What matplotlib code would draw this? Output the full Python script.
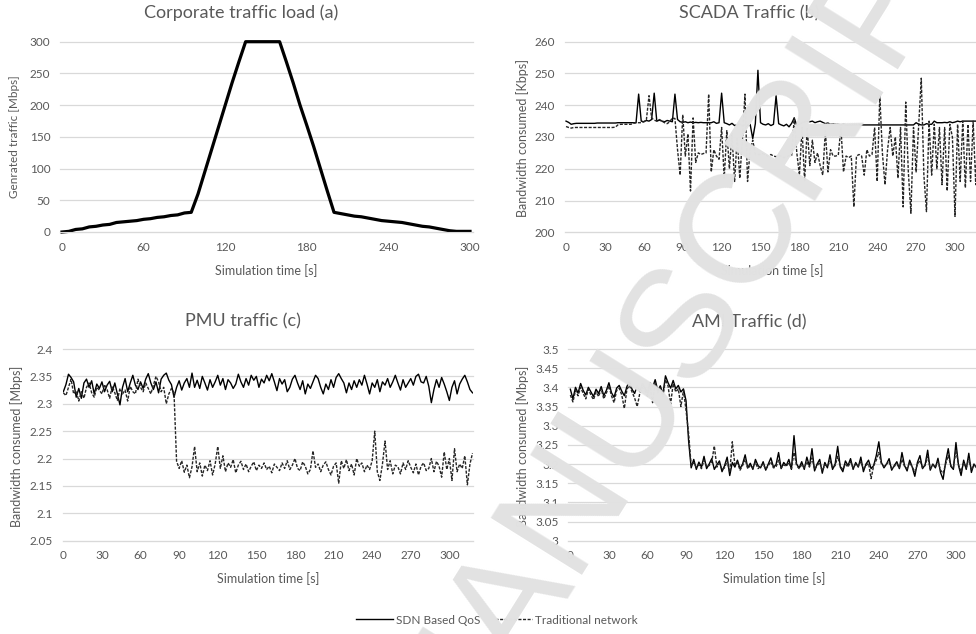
import numpy as np
import matplotlib
matplotlib.use("Agg")
import matplotlib.pyplot as plt
from matplotlib.lines import Line2D
from matplotlib.ticker import FuncFormatter

# ---- data ----
# (a) corporate traffic load, one sample every 5 s
corp_time = np.arange(0, 301, 5)
corp_load = [0, 1, 4, 5, 8, 9, 11, 12, 15, 16, 17, 18, 20, 21, 23, 24, 26, 27, 30, 31,
             60, 95, 130, 165, 200, 235, 268, 300,
             300, 300, 300, 300, 300,
             268, 235, 200, 168, 135, 100, 65, 31,
             29, 27, 25, 24, 22, 20, 18, 17, 16, 15, 13, 11, 9, 8, 6, 4, 2, 1, 1, 1]

# (b)-(d) one sample every 2 s
sim_time = np.arange(0, 320, 2)

scada_sdn = [
    235.0, 234.6, 234.0, 234.2, 234.3, 234.3, 234.3, 234.3, 234.3, 234.3,
    234.3, 234.3, 234.4, 234.4, 234.4, 234.4, 234.4, 234.4, 234.4, 234.4,
    234.5, 234.5, 234.5, 234.5, 234.5, 234.5, 234.5, 234.5, 243.5, 235.0,
    234.8, 235.2, 235.0, 235.5, 243.8, 235.0, 235.3, 235.0, 234.8, 235.2,
    235.0, 234.8, 243.5, 235.5, 234.8, 234.6, 234.8, 234.5, 234.7, 234.5,
    234.6, 234.5, 234.6, 234.5, 234.5, 234.5, 234.5, 234.8, 234.3, 234.5,
    243.8, 234.5, 234.2, 233.8, 234.3, 233.6, 233.8, 234.0, 233.5, 233.8,
    233.7, 234.0, 229.5, 234.2, 251.0, 234.5, 234.0, 233.8, 234.2, 233.6,
    234.0, 243.0, 234.2, 233.8, 233.5, 234.0, 233.2, 234.3, 236.0, 233.6,
    234.0, 234.5, 234.8, 235.0, 234.8, 235.0, 234.5, 234.8, 235.0, 234.6,
    234.2, 234.4, 234.0, 234.2, 234.0, 234.0, 233.8, 234.0, 233.8, 233.8,
    233.7, 233.8, 233.8, 233.8, 233.8, 233.8, 233.8, 233.8, 233.8, 233.8,
    233.8, 233.8, 233.8, 233.8, 233.8, 233.8, 233.8, 233.8, 233.8, 233.8,
    233.8, 233.8, 233.8, 233.8, 233.8, 234.5, 234.0, 233.8, 233.8, 234.2,
    234.0, 234.0, 235.0, 234.5, 234.5, 234.5, 234.6, 234.5, 234.8, 234.5,
    234.7, 235.0, 234.8, 235.0, 235.0, 235.0, 235.0, 235.0, 235.0, 235.0]

scada_trad = [
    233.3, 233.0, 232.8, 233.0, 233.0, 233.0, 233.0, 233.0, 233.0, 233.0,
    233.0, 233.0, 233.0, 233.0, 233.0, 233.0, 233.0, 233.0, 233.0, 233.1,
    233.8, 234.0, 234.0, 234.0, 234.0, 234.0, 234.3, 234.5, 234.5, 234.5,
    234.8, 235.5, 243.0, 236.0, 235.3, 235.0, 235.5, 235.0, 234.5, 234.2,
    234.8, 236.0, 235.8, 226.0, 218.0, 237.0, 224.0, 231.0, 213.0, 236.0,
    222.0, 225.0, 224.5, 224.8, 225.0, 243.5, 219.0, 226.0, 224.0, 223.0,
    233.0, 217.0, 232.0, 220.0, 231.0, 216.0, 230.0, 217.0, 229.0, 243.5,
    216.0, 226.0, 229.0, 224.5, 224.5, 224.5, 224.8, 224.3, 224.0, 224.5,
    224.0, 223.8, 224.0, 224.0, 223.5, 223.8, 224.0, 224.2, 236.0, 225.0,
    218.0, 233.0, 216.0, 233.0, 221.0, 229.0, 222.0, 225.0, 221.0, 218.0,
    232.0, 219.0, 226.0, 224.0, 224.0, 224.3, 233.0, 219.0, 224.0, 223.5,
    224.0, 208.0, 224.0, 224.5, 224.0, 218.0, 226.0, 224.0, 224.5, 233.0,
    216.0, 243.0, 225.0, 215.0, 226.0, 233.0, 224.0, 230.0, 217.0, 233.0,
    208.0, 241.0, 219.0, 206.0, 233.0, 219.0, 234.0, 248.5, 218.0, 206.5,
    235.0, 218.0, 234.0, 220.0, 233.0, 215.0, 233.0, 213.0, 234.0, 230.0,
    205.0, 234.0, 216.0, 235.0, 214.0, 234.0, 216.0, 235.0, 215.0, 237.0]

pmu_sdn = [
    2.322, 2.335, 2.354, 2.348, 2.340, 2.312, 2.328, 2.310, 2.338, 2.345,
    2.330, 2.342, 2.318, 2.336, 2.328, 2.340, 2.322, 2.334, 2.341, 2.322,
    2.338, 2.318, 2.298, 2.330, 2.346, 2.322, 2.338, 2.352, 2.334, 2.326,
    2.340, 2.328, 2.345, 2.355, 2.338, 2.326, 2.340, 2.320, 2.345, 2.352,
    2.356, 2.343, 2.335, 2.312, 2.330, 2.342, 2.325, 2.338, 2.346, 2.330,
    2.356, 2.330, 2.343, 2.328, 2.350, 2.338, 2.325, 2.344, 2.330, 2.340,
    2.352, 2.334, 2.346, 2.326, 2.344, 2.338, 2.328, 2.336, 2.354, 2.340,
    2.330, 2.346, 2.334, 2.352, 2.343, 2.350, 2.330, 2.345, 2.338, 2.352,
    2.342, 2.355, 2.340, 2.324, 2.346, 2.336, 2.344, 2.322, 2.330, 2.345,
    2.352, 2.338, 2.326, 2.342, 2.318, 2.336, 2.328, 2.340, 2.352, 2.346,
    2.330, 2.318, 2.336, 2.326, 2.344, 2.330, 2.348, 2.355, 2.346, 2.338,
    2.320, 2.338, 2.326, 2.342, 2.330, 2.344, 2.334, 2.352, 2.336, 2.318,
    2.338, 2.330, 2.344, 2.322, 2.340, 2.334, 2.346, 2.330, 2.340, 2.352,
    2.338, 2.325, 2.344, 2.330, 2.338, 2.346, 2.334, 2.350, 2.354, 2.340,
    2.338, 2.350, 2.332, 2.302, 2.326, 2.344, 2.330, 2.348, 2.336, 2.322,
    2.306, 2.330, 2.342, 2.318, 2.336, 2.345, 2.352, 2.340, 2.326, 2.320]

pmu_trad = [
    2.320, 2.315, 2.330, 2.345, 2.318, 2.324, 2.305, 2.322, 2.310, 2.330,
    2.338, 2.320, 2.312, 2.330, 2.325, 2.318, 2.335, 2.326, 2.310, 2.332,
    2.320, 2.306, 2.328, 2.318, 2.325, 2.305, 2.332, 2.322, 2.318, 2.345,
    2.330, 2.322, 2.338, 2.328, 2.318, 2.334, 2.350, 2.340, 2.322, 2.330,
    2.300, 2.318, 2.328, 2.320, 2.195, 2.182, 2.196, 2.175, 2.188, 2.165,
    2.185, 2.222, 2.176, 2.192, 2.168, 2.188, 2.178, 2.196, 2.170, 2.190,
    2.222, 2.182, 2.205, 2.176, 2.192, 2.184, 2.198, 2.174, 2.188, 2.195,
    2.180, 2.190, 2.176, 2.186, 2.194, 2.178, 2.188, 2.182, 2.192, 2.180,
    2.186, 2.174, 2.190, 2.184, 2.178, 2.192, 2.182, 2.196, 2.180, 2.188,
    2.200, 2.182, 2.178, 2.194, 2.186, 2.172, 2.180, 2.214, 2.184, 2.190,
    2.176, 2.188, 2.194, 2.180, 2.170, 2.186, 2.192, 2.155, 2.196, 2.182,
    2.198, 2.178, 2.190, 2.170, 2.200, 2.186, 2.192, 2.176, 2.188, 2.180,
    2.196, 2.250, 2.176, 2.160, 2.190, 2.232, 2.180, 2.196, 2.172, 2.188,
    2.185, 2.172, 2.192, 2.180, 2.196, 2.184, 2.174, 2.190, 2.170, 2.186,
    2.192, 2.178, 2.182, 2.200, 2.176, 2.195, 2.186, 2.166, 2.212, 2.180,
    2.200, 2.160, 2.218, 2.176, 2.190, 2.182, 2.205, 2.152, 2.190, 2.210]

ami_sdn = [
    3.395, 3.370, 3.400, 3.385, 3.410, 3.392, 3.380, 3.400, 3.388, 3.376,
    3.395, 3.384, 3.402, 3.378, 3.392, 3.412, 3.386, 3.374, 3.398, 3.405,
    3.390, 3.378, 3.402, 3.416, 3.395, 3.384, 3.404, 3.390, 3.410, 3.398,
    3.386, 3.412, 3.400, 3.420, 3.392, 3.404, 3.382, 3.430, 3.412, 3.398,
    3.418, 3.396, 3.405, 3.388, 3.396, 3.365, 3.260, 3.190, 3.212, 3.186,
    3.205, 3.192, 3.220, 3.188, 3.200, 3.214, 3.186, 3.198, 3.208, 3.180,
    3.196, 3.218, 3.170, 3.204, 3.192, 3.210, 3.188, 3.200, 3.224, 3.190,
    3.202, 3.186, 3.212, 3.196, 3.190, 3.206, 3.184, 3.200, 3.216, 3.192,
    3.198, 3.230, 3.188, 3.204, 3.196, 3.212, 3.186, 3.274, 3.200, 3.190,
    3.206, 3.186, 3.218, 3.194, 3.240, 3.182, 3.200, 3.212, 3.176, 3.204,
    3.190, 3.224, 3.186, 3.200, 3.246, 3.192, 3.180, 3.208, 3.196, 3.214,
    3.186, 3.204, 3.192, 3.218, 3.180, 3.200, 3.210, 3.188, 3.196, 3.222,
    3.258, 3.204, 3.190, 3.200, 3.214, 3.184, 3.196, 3.206, 3.188, 3.230,
    3.196, 3.182, 3.210, 3.192, 3.168, 3.204, 3.222, 3.188, 3.198, 3.236,
    3.184, 3.200, 3.190, 3.215, 3.178, 3.160, 3.206, 3.240, 3.194, 3.186,
    3.256, 3.196, 3.170, 3.210, 3.186, 3.228, 3.178, 3.200, 3.190, 3.205]

ami_trad = [
    3.380, 3.362, 3.392, 3.378, 3.400, 3.384, 3.370, 3.395, 3.380, 3.368,
    3.388, 3.376, 3.396, 3.370, 3.385, 3.404, 3.378, 3.360, 3.392, 3.398,
    3.380, 3.345, 3.395, 3.405, 3.388, 3.372, 3.350, 3.384, 3.400, 3.392,
    3.378, 3.404, 3.360, 3.412, 3.386, 3.398, 3.376, 3.420, 3.404, 3.356,
    3.410, 3.388, 3.396, 3.350, 3.392, 3.340, 3.280, 3.196, 3.204, 3.192,
    3.198, 3.188, 3.210, 3.194, 3.196, 3.206, 3.247, 3.192, 3.202, 3.186,
    3.190, 3.208, 3.178, 3.258, 3.198, 3.204, 3.184, 3.196, 3.212, 3.188,
    3.196, 3.190, 3.204, 3.188, 3.194, 3.200, 3.186, 3.196, 3.206, 3.190,
    3.192, 3.210, 3.190, 3.198, 3.194, 3.204, 3.188, 3.230, 3.196, 3.188,
    3.198, 3.190, 3.206, 3.192, 3.216, 3.186, 3.196, 3.204, 3.182, 3.198,
    3.194, 3.208, 3.190, 3.196, 3.220, 3.194, 3.186, 3.200, 3.192, 3.206,
    3.190, 3.200, 3.194, 3.206, 3.188, 3.196, 3.202, 3.162, 3.196, 3.210,
    3.230, 3.200, 3.194, 3.200, 3.206, 3.188, 3.194, 3.200, 3.190, 3.212,
    3.194, 3.188, 3.204, 3.192, 3.180, 3.198, 3.210, 3.190, 3.196, 3.220,
    3.188, 3.198, 3.192, 3.206, 3.184, 3.176, 3.200, 3.222, 3.196, 3.190,
    3.236, 3.198, 3.180, 3.204, 3.190, 3.214, 3.184, 3.198, 3.192, 3.200]

scada_ticks = [200, 210, 220, 230, 240, 250, 260]
pmu_ticks = [2.05, 2.1, 2.15, 2.2, 2.25, 2.3, 2.35, 2.4]
ami_ticks = [3.0, 3.05, 3.1, 3.15, 3.2, 3.25, 3.3, 3.35, 3.4, 3.45, 3.5]

# ---- style ----
W, H = 976, 634
GRID = "#d9d9d9"
TXT = "#595959"
DASH = (0, (2.2, 1.1))

plt.rcParams["font.family"] = ["Lato", "DejaVu Sans"]

fig = plt.figure(figsize=(W / 100, H / 100), dpi=100)


def px_box(x0, x1, ytop, ybot):
    return [x0 / W, 1 - ybot / H, (x1 - x0) / W, (ybot - ytop) / H]


def fig_text(x, y, s, **kw):
    fig.text(x / W, 1 - y / H, s, ha="center", va="center", color=TXT, **kw)


def style_axes(ax, xticks, yticks, xlim, ylim):
    ax.set_xlim(xlim)
    ax.set_ylim(ylim)
    ax.set_xticks(xticks)
    ax.set_yticks(yticks)
    ax.yaxis.set_major_formatter(FuncFormatter(lambda v, p: f"{v:g}"))
    ax.grid(axis="y", color=GRID, lw=0.9)
    ax.set_axisbelow(True)
    for side in ["top", "right", "left"]:
        ax.spines[side].set_visible(False)
    ax.spines["bottom"].set_color(GRID)
    ax.tick_params(length=0, labelsize=8.5, labelcolor=TXT, pad=7)
    for gl in ax.get_ygridlines():
        gl.set_clip_on(False)


# (a)
ax_a = fig.add_axes(px_box(60, 473, 41.7, 232))
ax_a.plot(corp_time, corp_load, color="black", lw=2.3, clip_on=False)
style_axes(ax_a, range(0, 301, 60), range(0, 301, 50), (-1.5, 302.2), (0, 300))

# (b)
ax_b = fig.add_axes(px_box(565, 976, 41.7, 232.3))
ax_b.plot(sim_time, scada_sdn, color="black", lw=1.0)
ax_b.plot(sim_time, scada_trad, color="#262626", lw=1.0, ls=DASH)
style_axes(ax_b, range(0, 301, 30), scada_ticks, (-0.8, 316.2), (200, 260))

# (c)
ax_c = fig.add_axes(px_box(62.7, 473.3, 349, 540.7))
ax_c.plot(sim_time, pmu_sdn, color="black", lw=1.0)
ax_c.plot(sim_time, pmu_trad, color="#262626", lw=1.0, ls=DASH)
style_axes(ax_c, range(0, 301, 30), pmu_ticks, (-0.5, 318.6), (2.05, 2.4))

# (d)
ax_d = fig.add_axes(px_box(568.3, 976, 349, 540.7))
ax_d.plot(sim_time, ami_sdn, color="black", lw=1.0)
ax_d.plot(sim_time, ami_trad, color="#262626", lw=1.0, ls=DASH)
style_axes(ax_d, range(0, 301, 30), ami_ticks, (-1.6, 315.6), (3.0, 3.5))

# titles and axis titles
fig_text(241, 13, "Corporate traffic load (a)", fontsize=13)
fig_text(749, 13, "SCADA Traffic (b)", fontsize=13)
fig_text(243, 321, "PMU traffic (c)", fontsize=13)
fig_text(749, 322, "AMI Traffic (d)", fontsize=13)

fig_text(266, 271, "Simulation time [s]", fontsize=9)
fig_text(772, 271, "Simulation time [s]", fontsize=9)
fig_text(268, 579, "Simulation time [s]", fontsize=9)
fig_text(774, 579, "Simulation time [s]", fontsize=9)

fig_text(15, 137, "Genrated traffic [Mbps]", fontsize=8.5, rotation=90)
fig_text(523, 138, "Bandwidth consumed [Kbps]", fontsize=9, rotation=90)
fig_text(17, 446, "Bandwidth consumed [Mbps]", fontsize=9, rotation=90)
fig_text(523, 446, "Bandwidth consumed [Mbps]", fontsize=9, rotation=90)

handles = [Line2D([], [], color="black", lw=1.0),
           Line2D([], [], color="#262626", lw=1.0, ls=DASH)]
fig.legend(handles, ["SDN Based QoS", "Traditional network"], loc="center",
           bbox_to_anchor=(497 / W, 1 - 620 / H), ncol=2, frameon=False,
           fontsize=8.5, labelcolor=TXT, handlelength=3.1, columnspacing=1.2,
           handletextpad=0.3)

# manuscript watermark
fig.text(685 / W, 1 - 315 / H, "MANUSCRIPT", rotation=58, fontsize=112,
         color="#e2e2e2", ha="center", va="center", family="Liberation Sans",
         zorder=10)

fig.savefig("out.png", dpi=100)
